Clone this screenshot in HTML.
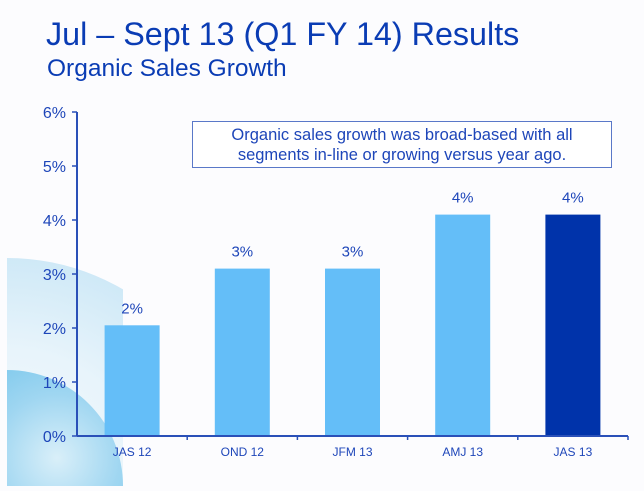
<!DOCTYPE html>
<html><head><meta charset="utf-8"><style>
html,body{margin:0;width:644px;height:491px;overflow:hidden}
body{background:#fcfcfe;position:relative;font-family:"Liberation Sans",sans-serif;color:#0a3cb4}
.t{position:absolute;white-space:nowrap}
</style></head><body>
<svg width="116" height="228" style="position:absolute;left:7px;top:258px;display:block">
 <defs>
  <radialGradient id="g1" cx="0" cy="230" r="230" gradientUnits="userSpaceOnUse"><stop offset="0" stop-color="#f4fafd"/><stop offset="0.6" stop-color="#e8f4fb"/><stop offset="1" stop-color="#cfe9f7"/></radialGradient>
  <radialGradient id="g2" cx="50" cy="200" r="116" gradientUnits="userSpaceOnUse"><stop offset="0" stop-color="#d9eff9"/><stop offset="0.55" stop-color="#9fd6f1"/><stop offset="1" stop-color="#7cc8ec"/></radialGradient>
 </defs>
 <circle cx="0" cy="230" r="230" fill="url(#g1)"/>
 <circle cx="0" cy="228" r="116" fill="url(#g2)"/>
</svg>
<div class="t" style="left:46px;top:16px;font-size:32.3px;color:#0a3cb4">Jul – Sept 13 (Q1 FY 14) Results</div>
<div class="t" style="left:47px;top:55px;font-size:24.5px;color:#0a3cb4">Organic Sales Growth</div>
<div style="position:absolute;left:192px;top:121px;width:420px;height:47px;border:1px solid #5a78c8;background:#fff;text-align:center;font-size:16.5px;line-height:20px;color:#1e46b9;padding-top:3px;box-sizing:border-box">Organic sales growth was broad-based with all<br>segments in-line or growing versus year ago.</div>
<svg id="chart" width="644" height="491" style="position:absolute;left:0;top:0;display:block"></svg>
<script>
const categories=["JAS 12","OND 12","JFM 13","AMJ 13","JAS 13"];
const values=[2.05,3.1,3.1,4.1,4.1];
const valueLabels=["2%","3%","3%","4%","4%"];
const yTicks=[0,1,2,3,4,5,6];
const colors=["#64bef8","#64bef8","#64bef8","#64bef8","#0033aa"];
const NS="http://www.w3.org/2000/svg";
const svg=document.getElementById('chart');
const x0=77,x1=628,y0=436,pxPer=54;
const y=v=>y0-v*pxPer;
const band=(x1-x0)/categories.length;
function mk(t,a,txt){const e=document.createElementNS(NS,t);for(const k in a)e.setAttribute(k,a[k]);if(txt!=null)e.textContent=txt;svg.appendChild(e);return e;}
yTicks.forEach(v=>{
 const l=mk('line',{x1:x0-5,x2:x0,y1:y(v),y2:y(v),stroke:'#2a50b8','stroke-width':1.5});
 
 
 const t=mk('text',{x:x0-11,y:y(v)+6,'text-anchor':'end','font-size':16,fill:'#1e46b9','font-family':'Liberation Sans'},v+'%');
 
 
});
categories.forEach((c,i)=>{
 const cx=x0+band*(i+0.5);
 const r=mk('rect',{x:cx-27.5,y:y(values[i]),width:55,height:y0-y(values[i]),fill:colors[i]});
 
 
 const vl=mk('text',{x:cx,y:y(values[i])-12,'text-anchor':'middle','font-size':15,fill:'#1e46b9','font-family':'Liberation Sans'},valueLabels[i]);
 
 
 const xl=mk('text',{x:cx,y:456,'text-anchor':'middle','font-size':12,fill:'#1e46b9','font-family':'Liberation Sans'},c);
 
 
 const tk=mk('line',{x1:x0+band*(i+1),x2:x0+band*(i+1),y1:y0,y2:y0+4,stroke:'#2a50b8','stroke-width':1.5});
 
 
});
const ya=mk('line',{x1:x0,x2:x0,y1:y(6),y2:y0,stroke:'#2a50b8','stroke-width':2});


const xa=mk('line',{x1:x0,x2:x1,y1:y0,y2:y0,stroke:'#2a50b8','stroke-width':2});


</script>
</body></html>
